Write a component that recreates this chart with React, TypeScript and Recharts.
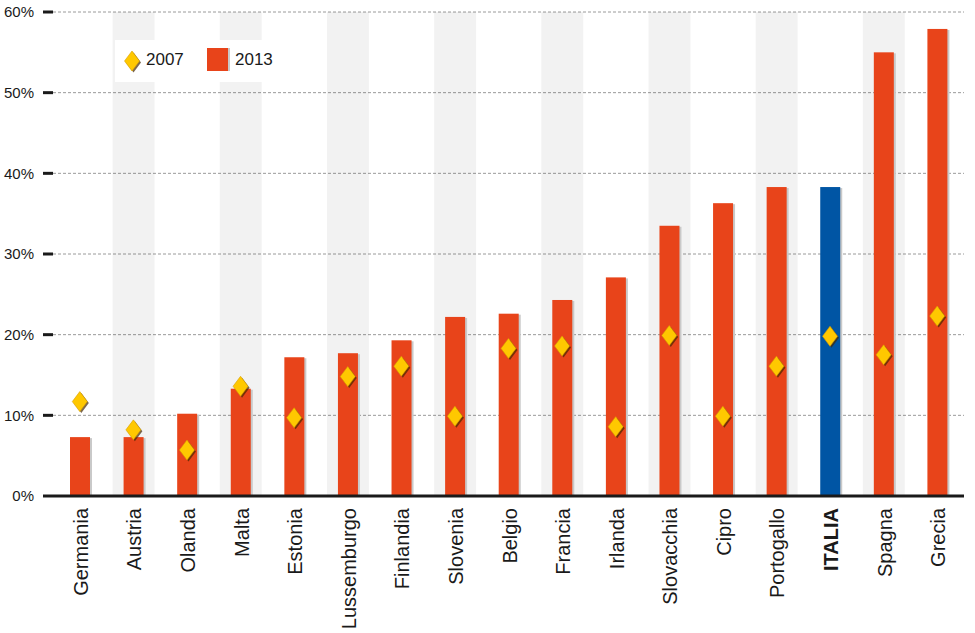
import { ComposedChart, Bar, Line, XAxis, YAxis, CartesianGrid } from 'recharts';

const countries = ['Germania', 'Austria', 'Olanda', 'Malta', 'Estonia', 'Lussemburgo', 'Finlandia', 'Slovenia', 'Belgio', 'Francia', 'Irlanda', 'Slovacchia', 'Cipro', 'Portogallo', 'ITALIA', 'Spagna', 'Grecia'];
const values2013 = [7.3, 7.3, 10.2, 13.3, 17.2, 17.7, 19.3, 22.2, 22.6, 24.3, 27.1, 33.5, 36.3, 38.3, 38.3, 55.0, 57.9];
const values2007 = [11.7, 8.2, 5.7, 13.6, 9.7, 14.8, 16.1, 9.9, 18.3, 18.6, 8.6, 19.9, 9.9, 16.1, 19.8, 17.5, 22.3];
const yTicks = [0, 10, 20, 30, 40, 50, 60];

const FONT = '"Liberation Sans", Arial, Helvetica, sans-serif';
const RED = '#E8441A';
const BLUE = '#0055A4';
const YELLOW = '#FFC800';

// every other column gets a light grey band
const data = countries.map((name, i) => ({
    name,
    v2013: values2013[i],
    v2007: values2007[i],
    band: i % 2 === 1 ? 60 : 0,
}));

const BarShape = (props: any) => {
    const { x, y, width, height, payload } = props;
    if (!height || height <= 0) return null;
    const fill = payload.name === 'ITALIA' ? BLUE : RED;
    return (
        <g>
            <rect x={x + 2} y={y + 1} width={width} height={height - 1} fill="#c9c9c9" />
            <rect x={x} y={y} width={width} height={height} fill={fill} />
        </g>
    );
};

const Diamond = ({ cx, cy }: { cx: number; cy: number }) => {
    const w = 7.5;
    const h = 10;
    const pts = (dx: number, dy: number) =>
        `${cx + dx},${cy - h + dy} ${cx + w + dx},${cy + dy} ${cx + dx},${cy + h + dy} ${cx - w + dx},${cy + dy}`;
    return (
        <g>
            <polygon points={pts(1.5, 1.5)} fill="rgba(70,40,0,0.7)" />
            <polygon points={pts(0, 0)} fill={YELLOW} stroke="#D9A000" strokeWidth={0.6} />
        </g>
    );
};

const DiamondDot = (props: any) => {
    const { cx, cy, index } = props;
    if (cx == null || cy == null) return <g key={`d-${index}`} />;
    return <Diamond key={`d-${index}`} cx={cx} cy={cy} />;
};

const XTick = (props: any) => {
    const { x, y, payload } = props;
    const bold = payload.value === 'ITALIA';
    return (
        <text
            transform={`translate(${x + 1},${y}) rotate(-90)`}
            textAnchor="end"
            dominantBaseline="central"
            fontFamily={FONT}
            fontSize={20}
            fontWeight={bold ? 700 : 400}
            fill="#1a1a1a"
        >
            {payload.value}
        </text>
    );
};

const LegendBox = () => (
    <div style={{ position: 'absolute', left: 115, top: 40, background: '#fff', width: 185, height: 42, fontFamily: FONT, fontSize: 17, color: '#1a1a1a' }}>
        <svg width={30} height={42} style={{ position: 'absolute', left: 6, top: 0 }}>
            <Diamond cx={11} cy={21} />
        </svg>
        <span style={{ position: 'absolute', left: 31, top: 10 }}>2007</span>
        <div style={{ position: 'absolute', left: 92, top: 8, width: 21, height: 23, background: RED, boxShadow: '2px 0 0 #c9c9c9' }} />
        <span style={{ position: 'absolute', left: 120, top: 10 }}>2013</span>
    </div>
);

export default function App() {
    return (
        <div style={{ position: 'absolute', left: 0, top: 0, width: 975, height: 633, background: '#fff' }}>
            <ComposedChart width={975} height={633} data={data} margin={{ top: 12, right: 11, left: 0, bottom: 0 }}>
                <CartesianGrid vertical={false} stroke="#9a9a9a" strokeDasharray="3 2" />
                <XAxis xAxisId="bg" dataKey="name" hide height={0} />
                <XAxis
                    xAxisId="main"
                    dataKey="name"
                    interval={0}
                    height={137}
                    tickSize={0}
                    tickMargin={12}
                    axisLine={{ stroke: '#1a1a1a', strokeWidth: 3 }}
                    tick={<XTick />}
                />
                <YAxis
                    width={53}
                    domain={[0, 60]}
                    ticks={yTicks}
                    interval={0}
                    axisLine={false}
                    tickSize={10}
                    tickMargin={9}
                    tickLine={{ stroke: '#1a1a1a', strokeWidth: 3 }}
                    tickFormatter={(v) => `${v}%`}
                    tick={{ fill: '#1a1a1a', fontSize: 15, fontFamily: FONT }}
                />
                <Bar xAxisId="bg" dataKey="band" barSize={42} fill="rgba(0,0,0,0.05)" isAnimationActive={false} legendType="none" />
                <Bar xAxisId="main" dataKey="v2013" name="2013" barSize={20} shape={<BarShape />} isAnimationActive={false} />
                <Line
                    xAxisId="main"
                    dataKey="v2007"
                    name="2007"
                    stroke="none"
                    dot={DiamondDot}
                    activeDot={false}
                    isAnimationActive={false}
                />
            </ComposedChart>
            <LegendBox />
        </div>
    );
}
